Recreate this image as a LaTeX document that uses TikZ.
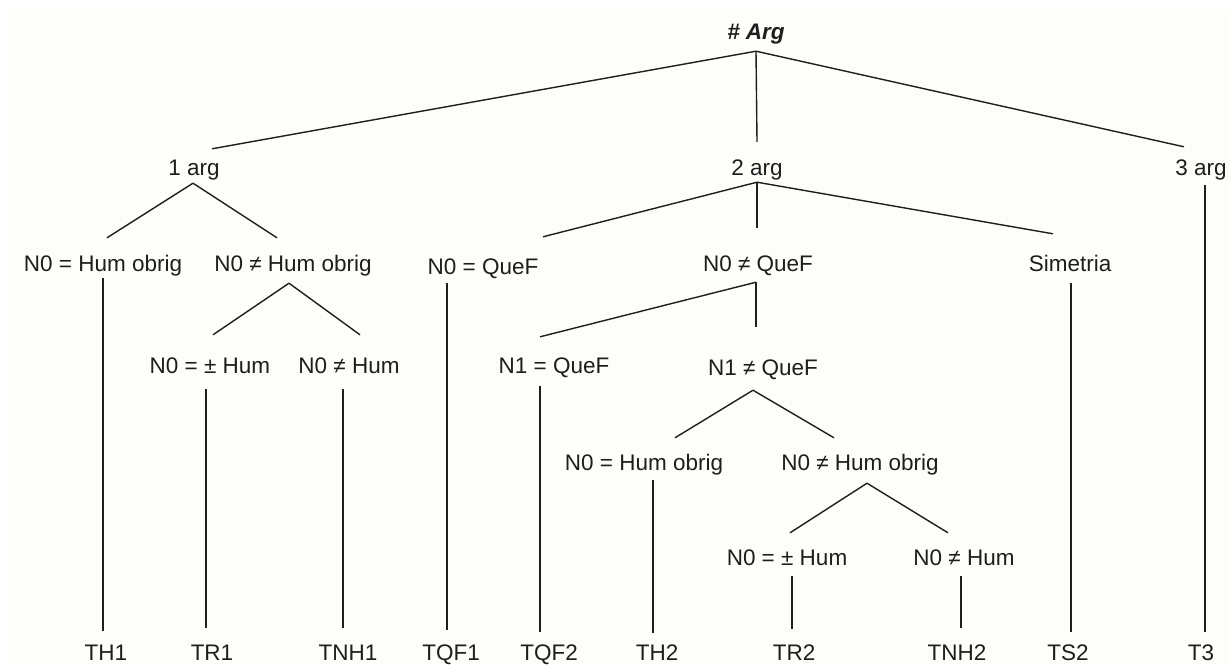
\documentclass[tikz,border=0pt]{standalone}
\usepackage{fontspec}
\setmainfont{Liberation Sans}
\usetikzlibrary{positioning}
\definecolor{bgcream}{RGB}{253,253,250}
\definecolor{inkgray}{RGB}{30,30,30}
\tikzset{lbl/.style = {inner sep = 0, text height = 16pt, text depth = 0pt,
                       text = inkgray, font = \fontsize{22.5pt}{25pt}\selectfont}}
\tikzset{tie/.style = {line width = 1.4pt, draw = inkgray}}

\begin{document}
\begin{tikzpicture}[x = 1pt, y = -1pt]
    \useasboundingbox (0, 0) rectangle (1230, 664);
    \fill [white] (0, 0) rectangle (1230, 664);
    \fill [bgcream] (7, 10) rectangle (1230, 664);
    % inner nodes
    \node [lbl] (arg) at (756, 31) {\textbf{\textit{\# Arg}}};
    \node [lbl] (a1) at (194, 167) {1 arg};
    \node [lbl] (a2) at (757, 167) {2 arg};
    \node [lbl] (a3) at (1201, 167) {3 arg};
    \node [lbl] (hum1) at (103, 263) {N0 = Hum obrig};
    \node [lbl] (nhum1) at (293, 263) {N0 ≠ Hum obrig};
    \node [lbl] (pm1) at (210, 365) {N0 = ± Hum};
    \node [lbl] (nh1) at (349, 365) {N0 ≠ Hum};
    \node [lbl] (quef0) at (483, 266) {N0 = QueF};
    \node [lbl] (nquef0) at (758, 263) {N0 ≠ QueF};
    \node [lbl] (sim) at (1070, 263) {Simetria};
    \node [lbl] (quef1) at (554, 365) {N1 = QueF};
    \node [lbl] (nquef1) at (763, 367) {N1 ≠ QueF};
    \node [lbl] (hum2) at (644, 462) {N0 = Hum obrig};
    \node [lbl] (nhum2) at (860, 462) {N0 ≠ Hum obrig};
    \node [lbl] (pm2) at (787, 557) {N0 = ± Hum};
    \node [lbl] (nh2) at (964, 557) {N0 ≠ Hum};
    % leaves
    \node [lbl] (th1) at (106, 652) {TH1};
    \node [lbl] (tr1) at (212, 652) {TR1};
    \node [lbl] (tnh1) at (348, 652) {TNH1};
    \node [lbl] (tqf1) at (451, 652) {TQF1};
    \node [lbl] (tqf2) at (549, 652) {TQF2};
    \node [lbl] (th2) at (657, 652) {TH2};
    \node [lbl] (tr2) at (794, 652) {TR2};
    \node [lbl] (tnh2) at (957, 652) {TNH2};
    \node [lbl] (ts2) at (1068, 652) {TS2};
    \node [lbl] (t3) at (1201, 652) {T3};
    % branches
    \draw [tie] ([shift={(0,12)}]arg.south) -- ([shift={(18,-10)}]a1.north);
    \draw [tie] ([shift={(0,12)}]arg.south) -- ([shift={(0,-17)}]a2.north);
    \draw [tie] ([shift={(0,12)}]arg.south) -- ([shift={(-17,-12)}]a3.north);
    \draw [tie] ([shift={(-1,8)}]a1.south) -- ([shift={(4,-17)}]hum1.north);
    \draw [tie] ([shift={(-1,8)}]a1.south) -- ([shift={(-16,-17)}]nhum1.north);
    \draw [tie] ([shift={(0,7)}]hum1.south) -- ([shift={(-3,-13)}]th1.north);
    \draw [tie] ([shift={(-4,12)}]nhum1.south) -- ([shift={(3,-22)}]pm1.north);
    \draw [tie] ([shift={(-4,12)}]nhum1.south) -- ([shift={(11,-22)}]nh1.north);
    \draw [tie] ([shift={(-4,16)}]pm1.south) -- ([shift={(-6,-16)}]tr1.north);
    \draw [tie] ([shift={(-6,16)}]nh1.south) -- ([shift={(-5,-16)}]tnh1.north);
    \draw [tie] ([shift={(0,7)}]a2.south) -- ([shift={(60,-21)}]quef0.north);
    \draw [tie] ([shift={(0,7)}]a2.south) -- ([shift={(-1,-27)}]nquef0.north);
    \draw [tie] ([shift={(0,7)}]a2.south) -- ([shift={(-17,-21)}]sim.north);
    \draw [tie] ([shift={(-36,9)}]quef0.south) -- ([shift={(-4,-14)}]tqf1.north);
    \draw [tie] ([shift={(-2,11)}]nquef0.south) -- ([shift={(-14,-20)}]quef1.north);
    \draw [tie] ([shift={(-2,11)}]nquef0.south) -- ([shift={(-7,-32)}]nquef1.north);
    \draw [tie] ([shift={(1,12)}]sim.south) -- ([shift={(3,-12)}]ts2.north);
    \draw [tie] ([shift={(4,10)}]a3.south) -- ([shift={(4,-12)}]t3.north);
    \draw [tie] ([shift={(-14,13)}]quef1.south) -- ([shift={(-9,-12)}]tqf2.north);
    \draw [tie] ([shift={(-10,15)}]nquef1.south) -- ([shift={(31,-16)}]hum2.north);
    \draw [tie] ([shift={(-10,15)}]nquef1.south) -- ([shift={(-26,-16)}]nhum2.north);
    \draw [tie] ([shift={(9,10)}]hum2.south) -- ([shift={(-4,-11)}]th2.north);
    \draw [tie] ([shift={(7,13)}]nhum2.south) -- ([shift={(3,-16)}]pm2.north);
    \draw [tie] ([shift={(7,13)}]nhum2.south) -- ([shift={(-16,-16)}]nh2.north);
    \draw [tie] ([shift={(5,11)}]pm2.south) -- ([shift={(-2,-15)}]tr2.north);
    \draw [tie] ([shift={(-3,11)}]nh2.south) -- ([shift={(4,-16)}]tnh2.north);
\end{tikzpicture}
\end{document}
